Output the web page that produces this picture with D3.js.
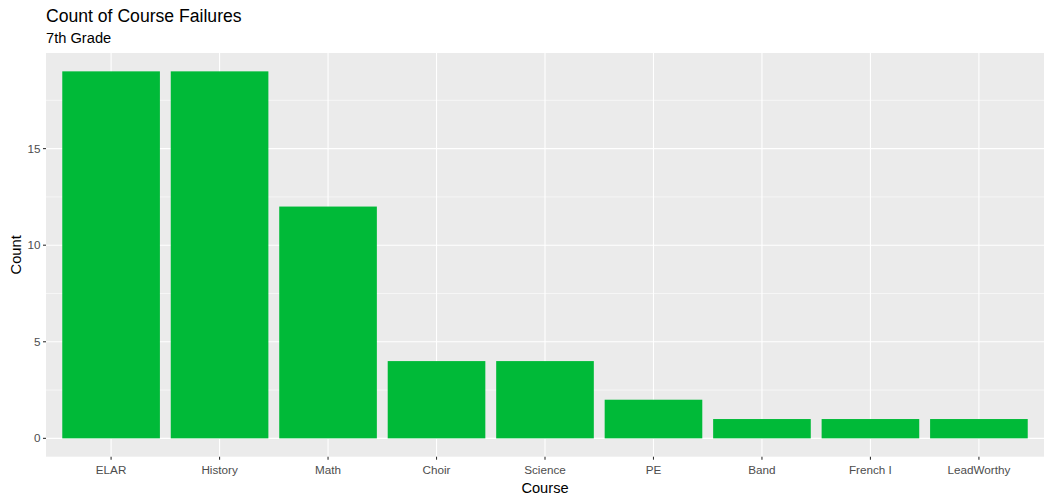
<!DOCTYPE html>
<html><head><meta charset="utf-8">
<script src="https://cdn.jsdelivr.net/npm/d3@7"></script>
<style>body{margin:0;background:#fff}svg{display:block;font-family:"Liberation Sans",Arial,sans-serif}</style>
</head><body>
<svg id="c" width="1052" height="502"></svg>
<script>
const categories = ["ELAR","History","Math","Choir","Science","PE","Band","French I","LeadWorthy"];
const counts = [19,19,12,4,4,2,1,1,1];
const yTicks = [0,5,10,15];
const yMinor = [2.5,7.5,12.5,17.5];

const svg = d3.select("#c");
const L = 46, R = 1044, T = 53, B = 456.7;
const x = d3.scaleBand().domain(categories).range([L,R]).paddingInner(0.1).paddingOuter(0.15);
const xc = d => x(d) + x.bandwidth()/2;
const maxV = d3.max(counts);
const y = d3.scaleLinear().domain([-0.05*maxV, maxV*1.05]).range([B,T]);

svg.append("rect").attr("x",L).attr("y",T).attr("width",R-L).attr("height",B-T).attr("fill","#EBEBEB");
const g = svg.append("g");
yMinor.forEach(v=>g.append("line").attr("x1",L).attr("x2",R).attr("y1",y(v)).attr("y2",y(v)).attr("stroke","#fff").attr("stroke-width",0.55));
yTicks.forEach(v=>g.append("line").attr("x1",L).attr("x2",R).attr("y1",y(v)).attr("y2",y(v)).attr("stroke","#fff").attr("stroke-width",1.1));
categories.forEach(c=>g.append("line").attr("x1",xc(c)).attr("x2",xc(c)).attr("y1",T).attr("y2",B).attr("stroke","#fff").attr("stroke-width",1.1));

svg.selectAll("rect.bar").data(categories).enter().append("rect").attr("class","bar")
  .attr("x",d=>x(d)).attr("width",x.bandwidth())
  .attr("y",(d,i)=>y(counts[i])).attr("height",(d,i)=>y(0)-y(counts[i]))
  .attr("fill","#00BA38");

// y axis
yTicks.forEach(v=>{
  svg.append("line").attr("x1",L-3).attr("x2",L).attr("y1",y(v)).attr("y2",y(v)).attr("stroke","#333").attr("stroke-width",1.1);
  svg.append("text").attr("x",L-5.5).attr("y",y(v)).attr("dy","0.35em").attr("text-anchor","end")
    .attr("font-size","11.7px").attr("fill","#4D4D4D").text(v);
});
// x axis
categories.forEach(c=>{
  svg.append("line").attr("x1",xc(c)).attr("x2",xc(c)).attr("y1",B).attr("y2",B+3).attr("stroke","#333").attr("stroke-width",1.1);
  svg.append("text").attr("x",xc(c)).attr("y",474.3).attr("text-anchor","middle")
    .attr("font-size","11.7px").attr("fill","#4D4D4D").text(c);
});

svg.append("text").attr("x",(L+R)/2).attr("y",493).attr("text-anchor","middle").attr("font-size","14.67px").attr("fill","#000").text("Course");
svg.append("text").attr("transform",`translate(20.5,${(T+B)/2}) rotate(-90)`).attr("text-anchor","middle").attr("font-size","14.67px").attr("fill","#000").text("Count");
svg.append("text").attr("x",L).attr("y",21.5).attr("font-size","17.6px").attr("fill","#000").text("Count of Course Failures");
svg.append("text").attr("x",L).attr("y",43.3).attr("font-size","14.67px").attr("fill","#000").text("7th Grade");
</script>
</body></html>
